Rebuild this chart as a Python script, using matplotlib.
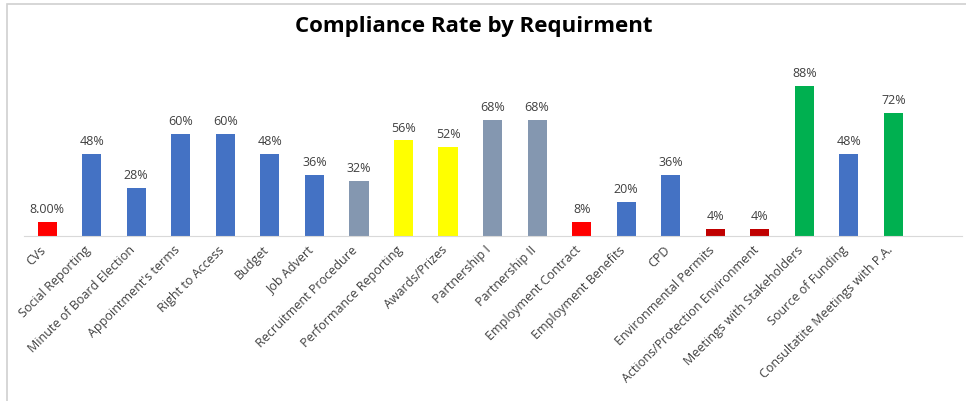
import matplotlib.pyplot as plt
from matplotlib.patches import Rectangle
from matplotlib.transforms import ScaledTranslation

# dados do grafico
requisitos = ["CVs", "Social Reporting", "Minute of Board Election", "Appointment's terms",
              "Right to Access", "Budget", "Job Advert", "Recruitment Procedure",
              "Performance Reporting", "Awards/Prizes", "Partnership I", "Partnership II",
              "Employment Contract", "Employment Benefits", "CPD", "Environmental Permits",
              "Actions/Protection Environment", "Meetings with Stakeholders",
              "Source of Funding", "Consultatite Meetings with P.A."]
taxas = [8, 48, 28, 60, 60, 48, 36, 32, 56, 52, 68, 68, 8, 20, 36, 4, 4, 88, 48, 72]
rotulos = ["8.00%", "48%", "28%", "60%", "60%", "48%", "36%", "32%", "56%", "52%",
           "68%", "68%", "8%", "20%", "36%", "4%", "4%", "88%", "48%", "72%"]
cores = ["#FF0000", "#4472C4", "#4472C4", "#4472C4", "#4472C4", "#4472C4", "#4472C4",
         "#8497B0", "#FFFF00", "#FFFF00", "#8497B0", "#8497B0", "#FF0000", "#4472C4",
         "#4472C4", "#C00000", "#C00000", "#00B050", "#4472C4", "#00B050"]

plt.rcParams["font.family"] = ["Open Sans", "DejaVu Sans"]

fig = plt.figure(figsize=(9.66, 4.02), dpi=100)

# moldura cinza em volta do grafico
fig.patches.append(Rectangle((7 / 966, -0.01), 1.02, 1 - 5 / 402 + 0.01,
                             transform=fig.transFigure, fill=False,
                             edgecolor="#D0D0D0", linewidth=1.2))

ax = fig.add_axes([24 / 966, 165 / 402, 938 / 966, 197 / 402])
x = range(len(taxas))
ax.bar(x, taxas, width=0.43, color=cores)

for i, (v, r) in enumerate(zip(taxas, rotulos)):
    ax.annotate(r, (i, v), xytext=(0, 5), textcoords="offset points",
                ha="center", va="bottom", fontsize=9, color="#404040")

ax.set_xlim(-0.52, 20.54)
ax.set_ylim(0, 115.5)
ax.set_xticks(list(x))
ax.set_xticklabels(requisitos, rotation=45, ha="right", va="center",
                   rotation_mode="anchor", fontsize=9, color="#404040")
ax.tick_params(axis="x", length=0, pad=8)
desloc = ScaledTranslation(-3 / 100, 0, fig.dpi_scale_trans)
for lbl in ax.get_xticklabels():
    lbl.set_transform(lbl.get_transform() + desloc)
ax.set_yticks([])
for lado in ["left", "right", "top"]:
    ax.spines[lado].set_visible(False)
ax.spines["bottom"].set_color("#D9D9D9")

fig.text(0.49, 0.935, "Compliance Rate by Requirment", ha="center", va="center",
         fontsize=16, fontweight="bold", color="black")

fig.savefig("out.png", dpi=100)
